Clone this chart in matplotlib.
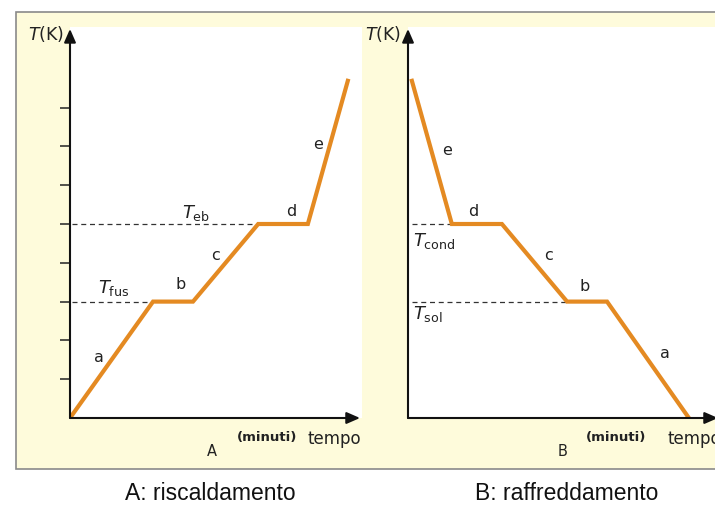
import matplotlib
matplotlib.use("Agg")
import matplotlib.pyplot as plt
from matplotlib.patches import Rectangle

# ── data (time in arbitrary minutes, temperature in tick units) ─────────────
heat_time = [0, 2.14, 3.17, 4.85, 6.13, 7.16]
heat_temp = [0, 3, 3, 5, 5, 8.69]
cool_time = [0.1, 1.13, 2.42, 4.10, 5.13, 7.24]
cool_temp = [8.69, 5, 5, 3, 3, 0]

T_FUS = 3
T_EB = 5
temp_ticks = [1, 2, 3, 4, 5, 6, 7, 8]

heat_seg_labels = ["a", "b", "c", "d", "e"]
heat_seg_pos = [(0.75, 1.57), (2.84, 3.43), (3.74, 4.2), (5.7, 5.31), (6.39, 7.04)]
cool_seg_labels = ["e", "d", "c", "b", "a"]
cool_seg_pos = [(1.0, 6.9), (1.68, 5.31), (3.61, 4.2), (4.54, 3.38), (6.62, 1.65)]

ORANGE = "#E48A22"
BEIGE = "#FEFBDB"
W, H = 715, 509


def fx(px):
    return px / W


def fy(py):
    return 1 - py / H


fig = plt.figure(figsize=(W / 100, H / 100), dpi=100)
fig.patch.set_facecolor("white")

# beige panel with grey frame (drawn below the white plotting areas)
fig.patches.append(Rectangle((fx(16), fy(469)), fx(715) - fx(16) + 0.01, fy(12) - fy(469),
                             transform=fig.transFigure, facecolor=BEIGE,
                             edgecolor="#8a8a8a", linewidth=1.2, zorder=-5))


def make_axes(left_px, right_px):
    ax = fig.add_axes([fx(left_px), fy(418), fx(right_px) - fx(left_px), fy(27) - fy(418)])
    ax.set_facecolor("white")
    for s in ax.spines.values():
        s.set_visible(False)
    ax.set_ylim(0, (418 - 27) / 38.8)
    ax.set_xlim(0, (right_px - left_px) / 38.8)
    ax.set_xticks([])
    return ax


def draw_axis_arrows(ax, xtip):
    ytop = ax.get_ylim()[1]
    arrow = dict(arrowstyle="-|>,head_length=0.8,head_width=0.35", color="#111111",
                 lw=1.5, shrinkA=0, shrinkB=0)
    ax.annotate("", xy=(0, ytop - 0.05), xytext=(0, 0), arrowprops=arrow, annotation_clip=False)
    ax.annotate("", xy=(xtip, 0), xytext=(0, 0), arrowprops=arrow, annotation_clip=False)


# ── A: riscaldamento ────────────────────────────────────────────────────────
axA = make_axes(70, 362)
axA.set_yticks(temp_ticks)
axA.set_yticklabels([])
axA.tick_params(axis="y", direction="out", length=7.5, width=1.1, color="#222222")
axA.plot([0.05, heat_time[1]], [T_FUS, T_FUS], ls=(0, (4, 3)), color="#333333", lw=0.9)
axA.plot([0.05, heat_time[3]], [T_EB, T_EB], ls=(0, (4, 3)), color="#333333", lw=0.9)
axA.plot(heat_time, heat_temp, color=ORANGE, lw=3, solid_joinstyle="miter", zorder=3)
draw_axis_arrows(axA, (360 - 70) / 38.8)
for lab, (x, y) in zip(heat_seg_labels, heat_seg_pos):
    axA.text(x, y, lab, fontsize=11.5, ha="center", va="center", color="#222222")
axA.text(1.13, 3.35, r"$T_{\rm fus}$", fontsize=13, ha="center", va="center", color="#222222")
axA.text(3.25, 5.28, r"$T_{\rm eb}$", fontsize=13, ha="center", va="center", color="#222222")

# ── B: raffreddamento ───────────────────────────────────────────────────────
axB = make_axes(408, 715)
axB.set_yticks([])
axB.plot([0.1, cool_time[1]], [T_EB, T_EB], ls=(0, (4, 3)), color="#333333", lw=0.9)
axB.plot([0.1, cool_time[3]], [T_FUS, T_FUS], ls=(0, (4, 3)), color="#333333", lw=0.9)
axB.plot(cool_time, cool_temp, color=ORANGE, lw=3, solid_joinstyle="miter", zorder=3)
draw_axis_arrows(axB, (718 - 408) / 38.8)
for lab, (x, y) in zip(cool_seg_labels, cool_seg_pos):
    axB.text(x, y, lab, fontsize=11.5, ha="center", va="center", color="#222222")
axB.text(0.12, 4.56, r"$T_{\rm cond}$", fontsize=13, ha="left", va="center", color="#222222")
axB.text(0.12, 2.68, r"$T_{\rm sol}$", fontsize=13, ha="left", va="center", color="#222222")

# ── axis titles and captions ────────────────────────────────────────────────
for xr in [64, 401]:
    fig.text(fx(xr), fy(34), r"$T$(K)", fontsize=12.5, ha="right", va="center", color="#222222")
for xm, xt, xl, lab in [(267, 308, 212, "A"), (616, 667, 563, "B")]:
    fig.text(fx(xm), fy(437), "(minuti)", fontsize=9.5, fontweight="bold",
             ha="center", va="center", color="#222222")
    fig.text(fx(xt), fy(439), "tempo", fontsize=12, ha="left", va="center", color="#222222")
    fig.text(fx(xl), fy(452), lab, fontsize=10.5, ha="center", va="center", color="#222222")

fig.text(fx(210), fy(494), "A: riscaldamento", fontsize=16.5, family="Liberation Sans",
         ha="center", va="center", color="#111111")
fig.text(fx(567), fy(494), "B: raffreddamento", fontsize=16.5, family="Liberation Sans",
         ha="center", va="center", color="#111111")

fig.savefig("out.png", dpi=100)
